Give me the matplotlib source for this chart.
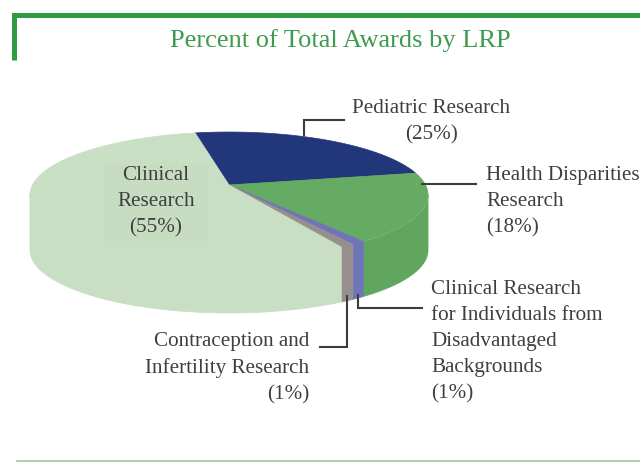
import numpy as np
import matplotlib
matplotlib.use("Agg")
import matplotlib.pyplot as plt
from matplotlib.patches import Polygon, Rectangle

# ---- data ----
categories = ["Pediatric Research", "Health Disparities Research",
              "Clinical Research for Individuals from Disadvantaged Backgrounds",
              "Contraception and Infertility Research", "Clinical Research"]
values = [25, 18, 1, 1, 55]
colors_top = ["#22367A", "#66AB63", "#7076B5", "#968F8E", "#C8DFC4"]
colors_side = ["#22367A", "#60A65E", "#7076B5", "#968F8E", "#C8DFC4"]
title = "Percent of Total Awards by LRP"

# ---- perspective pie geometry ----
START = 101.5
CX, CY = 229, 185
SX, SY, K = 196.5, 61.4, 0.159
DEPTH = 55


def rim(theta_deg):
    t = np.radians(theta_deg)
    d = 1 + K * np.sin(t)
    return CX + SX * np.cos(t) / d, CY - SY * np.sin(t) / d


fig = plt.figure(figsize=(6.4, 4.62), dpi=100)
ax = fig.add_axes([0, 0, 1, 1])
ax.set_xlim(0, 640)
ax.set_ylim(462, 0)
ax.axis("off")

edges = START - np.cumsum([0] + values) * 3.6
wedges = list(zip(edges[:-1], edges[1:]))

# visible (front) part of the cylinder wall: between the extreme-x rim points
scan = np.linspace(0, -180, 3601)
sx, _ = rim(scan)
right_th = scan[np.argmax(sx)]
scan2 = np.linspace(-90, -270, 3601)
sx2, _ = rim(scan2)
left_th = scan2[np.argmin(sx2)]

for (a, b), c in zip(wedges, colors_side):
    hi, lo = min(a, right_th), max(b, left_th)
    if hi <= lo:
        continue
    th = np.linspace(hi, lo, 160)
    x, y = rim(th)
    pts = np.r_[np.c_[x, y], np.c_[x[::-1], y[::-1] + DEPTH]]
    ax.add_patch(Polygon(pts, closed=True, fc=c, ec=c, lw=0.5, zorder=2))

for (a, b), c in zip(wedges, colors_top):
    th = np.linspace(a, b, 120)
    x, y = rim(th)
    pts = np.r_[[[CX, CY]], np.c_[x, y]]
    ax.add_patch(Polygon(pts, closed=True, fc=c, ec=c, lw=0.5, zorder=3))

# faint rim line on the green slice's front edge
x, y = rim(np.linspace(right_th, edges[2], 80))
ax.plot(x, y, color="#8FB98C", lw=0.6, ls=(0, (2, 2)), zorder=4)

# shaded box behind the Clinical label
ax.add_patch(Rectangle((103, 165), 106, 77, fc="#C6DDC2", ec="none", zorder=4))

# frame
GREEN = "#339A44"
ax.plot([13.5, 13.5, 640], [60, 14.5, 14.5], color=GREEN, lw=3.6,
        solid_joinstyle="miter", solid_capstyle="butt", zorder=5)
ax.plot([17, 640], [461, 461], color="#9CC8A0", lw=1.2, zorder=5)

ax.text(340, 41, title, color="#3D9B4E", family="Liberation Serif", fontsize=19,
        ha="center", va="center", zorder=6)

# leader lines
LC = "#3C3C3C"
leaders = [([304, 304, 344], [135, 120, 120]),
           ([422, 476], [184, 184]),
           ([358, 358, 422], [295, 308, 308]),
           ([347, 347, 320], [296, 346.5, 346.5])]
for lx, ly in leaders:
    ax.plot(lx, ly, color=LC, lw=1.5, solid_joinstyle="miter", zorder=6)

# labels
labels = [
    ("Pediatric Research\n(25%)", 431.5, 122, "center"),
    ("Clinical\nResearch\n(55%)", 156, 202, "center"),
    ("Health Disparities\nResearch\n(18%)", 486, 202, "left"),
    ("Clinical Research\nfor Individuals from\nDisadvantaged\nBackgrounds\n(1%)", 431, 342, "left"),
    ("Contraception and\nInfertility Research\n(1%)", 309, 368, "right"),
]
for s, x, y, ha in labels:
    ax.text(x, y, s, family="Liberation Serif", fontsize=15.25, color="#3F3F3F",
            ha=ha, va="center", multialignment={"left": "left", "center": "center", "right": "right"}[ha],
            linespacing=1.5, zorder=7)

fig.savefig("out.png", dpi=100)
